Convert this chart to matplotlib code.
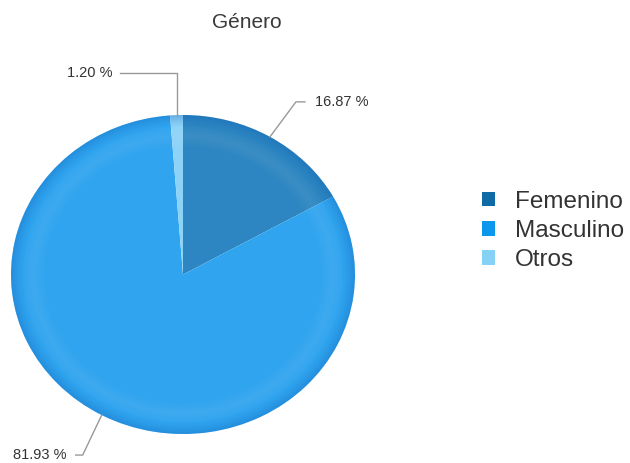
import numpy as np
import matplotlib
matplotlib.use("Agg")
import matplotlib.pyplot as plt
from matplotlib.patches import Circle, Patch
from matplotlib.lines import Line2D
from matplotlib.transforms import IdentityTransform

plt.rcParams['font.family'] = ['Liberation Sans', 'DejaVu Sans']

# Distribution by gender (%)
categories = ['Femenino', 'Masculino', 'Otros']
shares = np.array([16.87, 81.93, 1.20])
label_texts = ['16.87 %', '81.93 %', '1.20 %']

fill_colors = ['#2d86c1', '#30a4ef', '#8dd3f8']
legend_colors = ['#0f6aa6', '#0b97ec', '#86d1f6']

W, H = 630, 463
fig = plt.figure(figsize=(W / 100, H / 100), dpi=100)

# pie area (slightly wider than tall)
ax = fig.add_axes([11 / W, (H - 434) / H, 344 / W, 319 / H])
wedges, _ = ax.pie(shares, colors=fill_colors, startangle=90, counterclock=False,
                   radius=1, wedgeprops=dict(edgecolor='none', linewidth=0))
ax.set_aspect('auto')
ax.set_xlim(-1, 1)
ax.set_ylim(-1, 1)
ax.axis('off')

# rim shading: deep blue tint toward the edge, faint light band just inside
n = 700
g = np.linspace(-1, 1, n)
X, Y = np.meshgrid(g, g)
R = np.hypot(X, Y)
dark = 0.30 * np.clip((R - 0.92) / 0.08, 0, 1) ** 1.4
light = 0.06 * np.exp(-((R - 0.87) / 0.05) ** 2)
use_dark = dark > light
rgba = np.zeros((n, n, 4))
rgba[..., 0] = np.where(use_dark, 0.02, 1.0)
rgba[..., 1] = np.where(use_dark, 0.35, 1.0)
rgba[..., 2] = np.where(use_dark, 0.70, 1.0)
rgba[..., 3] = np.maximum(dark, light)
im = ax.imshow(rgba, extent=(-1, 1, -1, 1), origin='lower', aspect='auto',
               zorder=3, interpolation='bilinear')
im.set_clip_path(Circle((0, 0), 1, transform=ax.transData))
ax.set_xlim(-1, 1)
ax.set_ylim(-1, 1)

# data labels with leader lines (offsets in pixels, y up)
mid = np.cumsum(shares) - shares / 2
theta = np.deg2rad(90 - mid * 3.6)
leaders = [
    [(26, 35), (35, 35), (10, 'left')],
    [(-19, -40), (-26, -40), (-9, 'right')],
    [(0, 42), (-57, 42), (-7, 'right')],
]
for th, txt, (elbow, end, (gap, ha)) in zip(theta, label_texts, leaders):
    px, py = ax.transData.transform((np.cos(th), np.sin(th)))
    xs = [px, px + elbow[0], px + end[0]]
    ys = [py, py + elbow[1], py + end[1]]
    fig.add_artist(Line2D(xs, ys, transform=IdentityTransform(),
                          color='#999999', lw=1))
    fig.text(px + end[0] + gap, py + end[1], txt, transform=IdentityTransform(),
             ha=ha, va='center', fontsize=10.5, color='#333333')

fig.text(247 / W, 1 - 22 / H, 'Género', ha='center', va='center',
         fontsize=15, color='#3a3a3a')

handles = [Patch(facecolor=c, edgecolor='none') for c in legend_colors]
fig.legend(handles, categories, loc='center left',
           bbox_to_anchor=(482 / W, 1 - 231 / H), frameon=False, fontsize=17.5,
           handlelength=0.55, handleheight=0.55, handletextpad=0.8,
           labelspacing=0.3, borderpad=0, borderaxespad=0,
           labelcolor='#333333')

fig.savefig('out.png', dpi=100, facecolor='white')
